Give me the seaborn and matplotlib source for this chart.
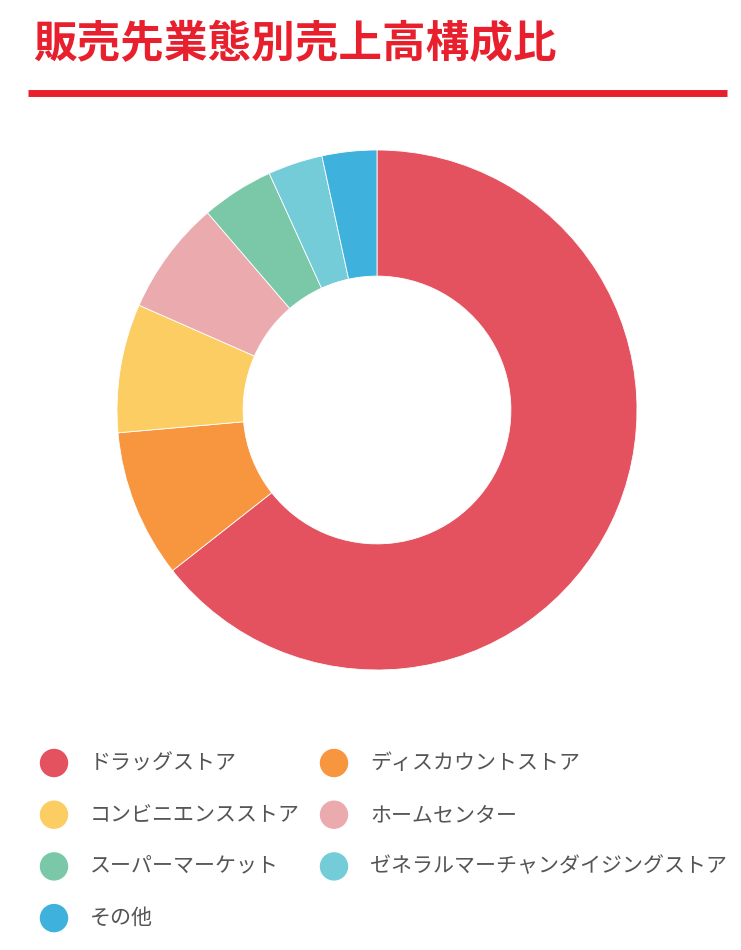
import matplotlib.pyplot as plt
import seaborn as sns
from matplotlib.patches import Circle

# Data
categories = ["ドラッグストア", "ディスカウントストア", "コンビニエンスストア", "ホームセンター",
              "スーパーマーケット", "ゼネラルマーチャンダイジングストア", "その他"]
shares = [64.4, 9.2, 8.0, 7.1, 4.5, 3.4, 3.4]
colors = ["#E4515F", "#F7963E", "#FBCD62", "#EBAAAE", "#7AC8A8", "#74CCD8", "#3EB1DD"]
title = "販売先業態別売上高構成比"

sns.set_theme(style="white")
plt.rcParams['font.family'] = ['Noto Sans CJK JP', 'DejaVu Sans']

W, H = 741, 950
fig = plt.figure(figsize=(W / 100, H / 100), dpi=100)

# overlay axes in pixel coords for title, rule and legend
bg = fig.add_axes([0, 0, 1, 1])
bg.set_xlim(0, W)
bg.set_ylim(H, 0)
bg.axis("off")

bg.text(33, 44, title, color="#E8202E", fontsize=31.4, fontweight="bold",
        ha="left", va="center")
bg.plot([28, 727], [93, 93], color="#E8202E", lw=5, solid_capstyle="butt")

# donut
ax = fig.add_axes([117 / W, 1 - 670 / H, 520 / W, 520 / H])
ax.pie(shares, colors=colors, startangle=90, counterclock=False,
       wedgeprops=dict(width=0.485, edgecolor="white", linewidth=0.6))
ax.set_xlim(-1, 1)
ax.set_ylim(-1, 1)
ax.set_aspect("equal")

# legend, two columns
for i, (lab, col) in enumerate(zip(categories, colors)):
    row, c = divmod(i, 2)
    x0 = 54 + c * 280
    y0 = 763 + row * 51.7
    bg.add_patch(Circle((x0, y0), 13.5, color=col))
    bg.text(x0 + 36, y0, lab, color="#555555", fontsize=15.1,
            ha="left", va="center")

fig.savefig("out.png", dpi=100)
